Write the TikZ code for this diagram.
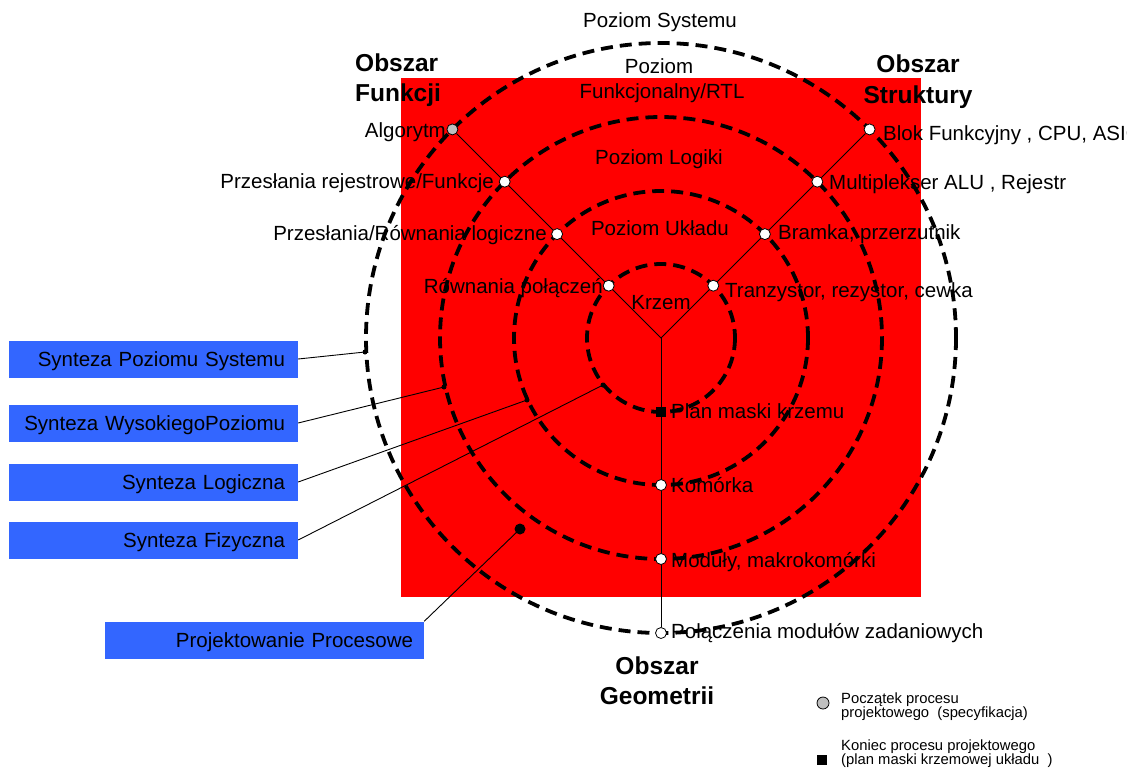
\documentclass[tikz,border=0pt]{standalone}
\usepackage{fontspec}
\setmainfont{Liberation Sans}
\usetikzlibrary{calc,backgrounds}
\definecolor{areared}{RGB}{255,0,0}
\definecolor{synblue}{RGB}{51,102,255}
\begin{document}
\begin{tikzpicture}[x=1pt,y=-1pt,
  ring/.style={draw=black,line width=3.8pt,dash pattern=on 12pt off 7pt},
  axis/.style={draw=black,line width=0.9pt},
  link/.style={draw=black,line width=0.9pt},
  stage/.style={circle,draw=black,fill=white,line width=0.8pt,minimum size=11pt,inner sep=0pt},
  startpt/.style={stage,fill=black!25},
  endpt/.style={rectangle,fill=black,minimum size=10pt,inner sep=0pt},
  tip/.style={circle,fill=black,minimum size=5pt,inner sep=0pt},
  bigtip/.style={circle,fill=black,minimum size=11pt,inner sep=0pt},
  txt/.style={font=\fontsize{20.5}{24}\selectfont,inner sep=0pt},
  head/.style={font=\fontsize{24.5}{31}\selectfont\bfseries,inner sep=0pt},
  synbox/.style={fill=synblue,font=\fontsize{20.5}{24}\selectfont,text height=14.7pt,text depth=0pt,
    minimum height=37pt,inner ysep=0pt,align=right},
  legend/.style={font=\fontsize{14.8}{14}\selectfont,inner sep=0pt}
]
\useasboundingbox (0,0) rectangle (1140,774);

% centre of the concentric levels
\coordinate (c) at (661,338);

% design stages on the three axes
\node[startpt] (alg)  at ($(c)+(-208.6,-208.6)$) {};
\node[stage]   (prf)  at ($(c)+(-156.3,-156.3)$) {};
\node[stage]   (prl)  at ($(c)+(-103.9,-103.9)$) {};
\node[stage]   (rp)   at ($(c)+(-52.3,-52.3)$) {};
\node[stage]   (blk)  at ($(c)+(208.6,-208.6)$) {};
\node[stage]   (mux)  at ($(c)+(156.3,-156.3)$) {};
\node[stage]   (gate) at ($(c)+(103.9,-103.9)$) {};
\node[stage]   (tr)   at ($(c)+(52.3,-52.3)$) {};
\node[stage]   (pol)  at ($(c)+(0,295)$) {};
\node[stage]   (mod)  at ($(c)+(0,221)$) {};
\node[stage]   (kom)  at ($(c)+(0,147)$) {};
\node[endpt]   (plan) at ($(c)+(0,74)$) {};

% points where the synthesis steps touch the levels
\node[tip]    (t1) at (365,352) {};
\node[tip]    (t2) at (444,387) {};
\node[tip]    (t3) at (527,400) {};
\node[tip]    (t4) at (603,385) {};
\node[bigtip] (t5) at (520,529) {};

% synthesis boxes
\node[synbox,text width=263pt,inner xsep=13pt] (ss) at (153.5,359) {Synteza Poziomu Systemu};
\node[synbox,text width=263pt,inner xsep=13pt] (sw) at (153.5,423) {Synteza WysokiegoPoziomu};
\node[synbox,text width=263pt,inner xsep=13pt] (sl) at (153.5,482) {Synteza Logiczna};
\node[synbox,text width=263pt,inner xsep=13pt] (sf) at (153.5,540) {Synteza Fizyczna};
\node[synbox,text width=297pt,inner xsep=11pt] (pp) at (264.5,640) {Projektowanie Procesowe};

\begin{pgfonlayer}{background}
  \fill[areared] (401,78) rectangle (921,597);
  \draw[ring] (c) circle[radius=295];
  \draw[ring] (c) circle[radius=221];
  \draw[ring] (c) circle[radius=147];
  \draw[ring] (c) circle[radius=74];
  \draw[axis] (alg) -- (c) -- (blk);
  \draw[axis] (c) -- (pol);
  \draw[link] (ss.east) -- (t1.center);
  \draw[link] (sw.east) -- (t2.center);
  \draw[link] (sl.east) -- (t3.center);
  \draw[link] (sf.east) -- (t4.center);
  \draw[link] (pp.north east) -- (t5.center);
\end{pgfonlayer}

% level names
\node[txt,anchor=base] (lsys) at (660,27)  {Poziom Systemu};
\node[txt,anchor=base] (lrta) at (659,73)  {Poziom};
\node[txt,anchor=base] (lrtb) at (662,98)  {Funkcjonalny/RTL};
\node[txt,anchor=base] (llog) at (659,164) {Poziom Logiki};
\node[txt,anchor=base] (luk)  at (660,235) {Poziom Układu};
\node[txt,anchor=base] (lkrz) at (661,309) {Krzem};

% domain headings
\node[head,anchor=base west] (hfa) at (355,71)  {Obszar};
\node[head,anchor=base west] (hfb) at (355,101) {Funkcji};
\node[head,anchor=base] (hsa) at (918,72)  {Obszar};
\node[head,anchor=base] (hsb) at (918,103) {Struktury};
\node[head,anchor=base] (hga) at (657,674) {Obszar};
\node[head,anchor=base] (hgb) at (657,704) {Geometrii};

% function domain
\node[txt,anchor=base east] (nalg) at (446,137) {Algorytm};
\node[txt,anchor=base east] (nprf) at (494,188) {Przesłania rejestrowe/Funkcje};
\node[txt,anchor=base east] (nprl) at (547,240) {Przesłania/Równania logiczne};
\node[txt,anchor=base east] (nrp)  at (603,293) {Równania połączeń};

% structure domain
\begin{scope}
  \clip (0,0) rectangle (1126,774);
  \node[txt,anchor=base west] (nblk) at (883,140) {Blok Funkcyjny , CPU, ASIC};
\end{scope}
\node[txt,anchor=base west] (nmux)  at (829,189) {Multiplekser ALU , Rejestr};
\node[txt,anchor=base west] (ngate) at (778,239) {Bramka, przerzutnik};
\node[txt,anchor=base west] (ntr)   at (725,297) {Tranzystor, rezystor, cewka};

% geometry domain
\node[txt,anchor=base west] (nplan) at (671,418) {Plan maski krzemu};
\node[txt,anchor=base west] (nkom)  at (671,492) {Komórka};
\node[txt,anchor=base west] (nmod)  at (671,567) {Moduły, makrokomórki};
\node[txt,anchor=base west] (npol)  at (671,638) {Połączenia modułów zadaniowych};

% legend
\node[startpt,minimum size=12pt] (lgs) at (823,703) {};
\node[endpt] (lge) at (822,760) {};
\node[legend,anchor=base west] (lgsa) at (841,703) {Początek procesu};
\node[legend,anchor=base west] (lgsb) at (841,717) {projektowego\ \ (specyfikacja)};
\node[legend,anchor=base west] (lgea) at (841,750) {Koniec procesu projektowego};
\node[legend,anchor=base west] (lgeb) at (841,764) {(plan maski krzemowej układu\ \ )};
\end{tikzpicture}
\end{document}
